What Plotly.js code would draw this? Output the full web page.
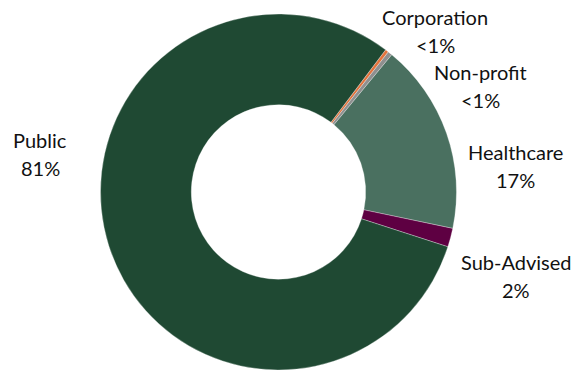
<!DOCTYPE html>
<html>
<head>
<meta charset="utf-8">
<script src="https://cdn.plot.ly/plotly-3.0.1.min.js"></script>
<style>html,body{margin:0;padding:0;background:#fff;}#chart{width:587px;height:370px;}</style>
</head>
<body>
<div id="chart"></div>
<script>
const categories = ["Corporation", "Non-profit", "Healthcare", "Sub-Advised", "Public"];
const shares = [0.3, 0.4, 17.3, 1.7, 80.3];
const shareLabels = ["<1%", "<1%", "17%", "2%", "81%"];
const colors = ["#e2733c", "#8f8f8f", "#4a7060", "#5e0042", "#1f4933"];

// label anchor positions in pixels [x, y of first line]
const labelPos = {
  "Corporation": [435, 17],
  "Non-profit": [480, 72],
  "Healthcare": [515, 152],
  "Sub-Advised": [516, 262],
  "Public": [40, 140]
};
const W = 587, H = 370, LINE = 28;
const annotations = [];
categories.forEach((c, i) => {
  const p = labelPos[c];
  [c, shareLabels[i]].forEach((t, k) => {
    annotations.push({
      text: t, xref: "paper", yref: "paper",
      x: p[0] / W, y: 1 - (p[1] + k * LINE) / H,
      xanchor: "center", yanchor: "middle", showarrow: false,
      font: {family: "Lato, 'Open Sans', sans-serif", size: 20, color: "#111"}
    });
  });
});

Plotly.newPlot("chart", [{
  type: "pie",
  labels: categories,
  values: shares,
  hole: 0.49,
  sort: false,
  direction: "clockwise",
  rotation: 37,
  textinfo: "none",
  hoverinfo: "label+percent",
  marker: {colors: colors, line: {color: "rgba(255,255,255,0.5)", width: 0.6}},
  domain: {x: [100 / W, 457 / W], y: [0, 356 / H]},
  showlegend: false
}], {
  width: W, height: H,
  margin: {l: 0, r: 0, t: 0, b: 0},
  paper_bgcolor: "#fff",
  showlegend: false,
  annotations: annotations
}, {displayModeBar: false, staticPlot: true});
</script>
</body>
</html>
